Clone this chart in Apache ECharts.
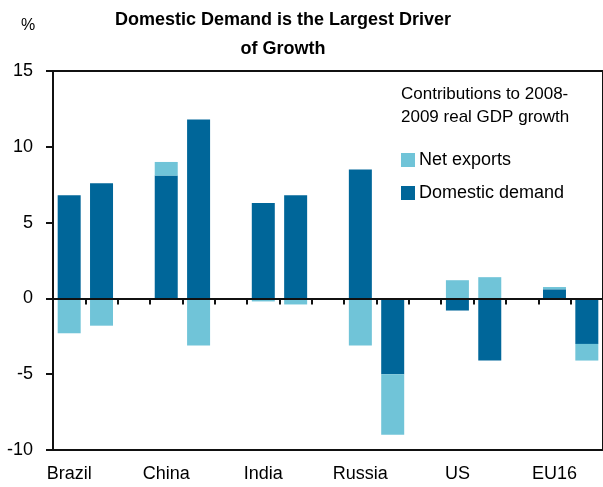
<!DOCTYPE html>
<html>
<head>
<meta charset="utf-8">
<script src="https://cdn.jsdelivr.net/npm/echarts@6/dist/echarts.min.js"></script>
<style>
  html, body { margin: 0; padding: 0; background: #fff; }
  #chart { width: 603px; height: 487px; }
</style>
</head>
<body>
<div id="chart"></div>
<script>
const countries = ['Brazil', 'China', 'India', 'Russia', 'US', 'EU16'];
const years = ['2008', '2009'];
// contributions to real GDP growth, 2008 then 2009 for each country
const domesticDemand = [6.8, 7.6, 8.1, 11.8, 6.3, 6.8, 8.5, -5.0, -0.8, -4.1, 0.6, -3.0];
const netExports = [-2.3, -1.8, 0.9, -3.1, -0.2, -0.4, -3.1, -4.0, 1.2, 1.4, 0.15, -1.1];
const yTicks = [-10, -5, 0, 5, 10, 15];

// one slot per bar, plus an empty slot between countries
const slots = [];
const ddData = [];
const nxData = [];
countries.forEach((c, i) => {
  years.forEach((y, j) => {
    slots.push(c + ' ' + y);
    ddData.push(domesticDemand[i * 2 + j]);
    nxData.push(netExports[i * 2 + j]);
  });
  if (i < countries.length - 1) {
    slots.push('gap' + i);
    ddData.push('-');
    nxData.push('-');
  }
});

const font = '"Liberation Sans", Arial, sans-serif';
const dark = '#006699';
const light = '#70c4d8';

const chart = echarts.init(document.getElementById('chart'));

chart.setOption({
  animation: false,
  textStyle: { fontFamily: font, color: '#000' },
  grid: {
    left: 53,
    top: 71,
    right: -4,
    bottom: 37,
    show: true,
    borderColor: '#111',
    borderWidth: 2
  },
  legend: {
    data: ['Net exports', 'Domestic demand'],
    orient: 'vertical',
    left: 401,
    top: 151,
    padding: 0,
    itemWidth: 14,
    itemHeight: 14,
    itemGap: 15,
    icon: 'rect',
    textStyle: { fontSize: 18, color: '#000', fontFamily: font, padding: [0, 0, 0, -1] }
  },
  graphic: [
    {
      type: 'text',
      x: 283,
      y: 35,
      style: {
        text: 'Domestic Demand is the Largest Driver\nof Growth',
        font: 'bold 18px ' + font,
        fill: '#000',
        align: 'center',
        verticalAlign: 'middle',
        lineHeight: 29
      }
    },
    {
      type: 'text',
      x: 28,
      y: 26,
      style: {
        text: '%',
        font: '16px ' + font,
        fill: '#000',
        align: 'center',
        verticalAlign: 'middle'
      }
    },
    {
      type: 'text',
      x: 401,
      y: 106,
      style: {
        text: 'Contributions to 2008-\n2009 real GDP growth',
        font: '17px ' + font,
        fill: '#000',
        align: 'left',
        verticalAlign: 'middle',
        lineHeight: 23
      }
    }
  ],
  xAxis: [
    {
      // country names along the bottom
      type: 'category',
      position: 'bottom',
      data: slots,
      axisLine: { show: false, onZero: false },
      axisTick: { show: false },
      axisLabel: {
        interval: 0,
        fontSize: 18,
        color: '#000',
        margin: 15,
        formatter: v => v.endsWith(' 2008') ? v.slice(0, -5) : ''
      }
    },
    {
      // zero line with the slot ticks, drawn over the bars
      type: 'category',
      position: 'top',
      z: 5,
      data: slots,
      axisLine: { show: true, onZero: true, lineStyle: { color: '#111', width: 2 } },
      axisTick: { show: true, inside: true, interval: 0, length: 6, lineStyle: { color: '#111', width: 2 } },
      axisLabel: { show: false }
    }
  ],
  yAxis: {
    type: 'value',
    min: yTicks[0],
    max: yTicks[yTicks.length - 1],
    interval: 5,
    axisLine: { show: true, lineStyle: { color: '#111', width: 2 } },
    axisTick: { show: true, length: 7, lineStyle: { color: '#111', width: 2 } },
    axisLabel: { fontSize: 18, color: '#000', margin: 20 },
    splitLine: { show: false }
  },
  series: [
    {
      name: 'Domestic demand',
      type: 'bar',
      stack: 'total',
      xAxisIndex: 0,
      barWidth: 23,
      itemStyle: { color: dark },
      data: ddData
    },
    {
      name: 'Net exports',
      type: 'bar',
      stack: 'total',
      xAxisIndex: 0,
      barWidth: 23,
      itemStyle: { color: light },
      data: nxData
    }
  ]
});
</script>
</body>
</html>
